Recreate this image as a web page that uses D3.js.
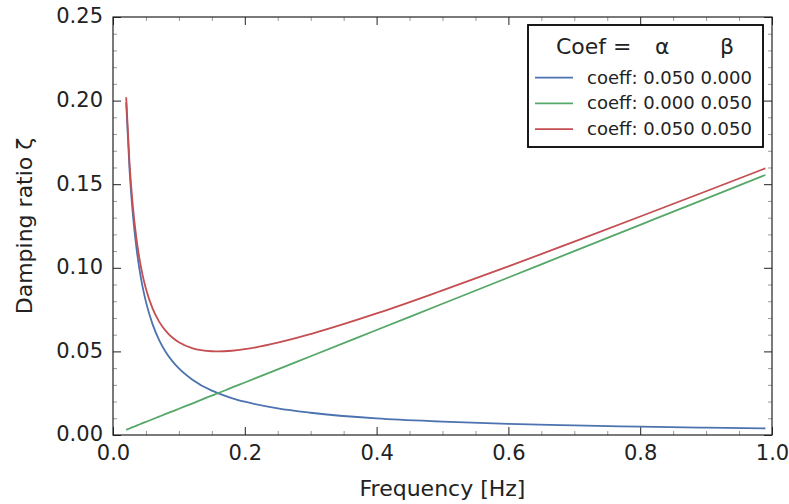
<!DOCTYPE html>
<html>
<head>
<meta charset="utf-8">
<script src="https://cdn.jsdelivr.net/npm/d3@7"></script>
<style>
  body { margin: 0; background: #fff; }
  svg text { font-family: "DejaVu Sans", sans-serif; fill: #222; }
</style>
</head>
<body>
<div id="chart"></div>
<script>
// values
const freq   = [0.02, 0.025, 0.03, 0.035, 0.04, 0.045, 0.05, 0.06, 0.07, 0.08, 0.09, 0.10, 0.12, 0.15, 0.16, 0.18, 0.20, 0.25, 0.30, 0.40, 0.50, 0.60, 0.70, 0.80, 0.90, 0.99];
const zetaA  = [0.1989, 0.1592, 0.1326, 0.1137, 0.0995, 0.0884, 0.0796, 0.0663, 0.0568, 0.0497, 0.0442, 0.0398, 0.0332, 0.0265, 0.0249, 0.0221, 0.0199, 0.0159, 0.0133, 0.0099, 0.0080, 0.0066, 0.0057, 0.0050, 0.0044, 0.0040];
const zetaB  = [0.0031, 0.0039, 0.0047, 0.0055, 0.0063, 0.0071, 0.0079, 0.0094, 0.0110, 0.0126, 0.0141, 0.0157, 0.0188, 0.0236, 0.0251, 0.0283, 0.0314, 0.0393, 0.0471, 0.0628, 0.0785, 0.0942, 0.1100, 0.1257, 0.1414, 0.1555];
const zetaAB = [0.2020, 0.1631, 0.1373, 0.1192, 0.1058, 0.0955, 0.0875, 0.0757, 0.0678, 0.0623, 0.0583, 0.0555, 0.0520, 0.0501, 0.0500, 0.0504, 0.0513, 0.0552, 0.0604, 0.0727, 0.0865, 0.1008, 0.1157, 0.1307, 0.1458, 0.1595];

const seriesNames = ["coeff: 0.050 0.000", "coeff: 0.000 0.050", "coeff: 0.050 0.050"];
const seriesVals = [zetaA, zetaB, zetaAB];
const seriesColors = ["#4C72B0", "#55A868", "#C44E52"];

const xTicks = [0, 0.2, 0.4, 0.6, 0.8, 1.0];
const yTicks = [0, 0.05, 0.10, 0.15, 0.20, 0.25];

const width = 789, height = 504;
const margin = {top: 17, right: 17, bottom: 69, left: 113};

const svg = d3.select("#chart").append("svg")
    .attr("width", width)
    .attr("height", height);

const x = d3.scaleLinear().domain([0, 1]).range([margin.left, width - margin.right]);
const y = d3.scaleLinear().domain([0, 0.25]).range([height - margin.bottom, margin.top]);

// minor + major ticks on all four sides, pointing inward
const xMinor = d3.range(0, 1.0001, 0.05).filter(v => Math.abs(v * 5 - Math.round(v * 5)) > 1e-6);
const yMinor = d3.range(0, 0.2501, 0.01).filter(v => Math.abs(v * 20 - Math.round(v * 20)) > 1e-6);

function tickSet(axisFn, scale, vals, size, cls, pos) {
  const g = svg.append("g").attr("transform", pos);
  g.call(axisFn(scale).tickValues(vals).tickSize(size).tickFormat(""));
  g.select(".domain").remove();
  g.selectAll("line").attr("stroke", cls === "minor" ? "#999" : "#222").attr("stroke-width", 1);
  return g;
}
const bottomY = height - margin.bottom, topY = margin.top;
const leftX = margin.left, rightX = width - margin.right;

tickSet(d3.axisTop, x, xMinor, 4, "minor", `translate(0,${bottomY})`);
tickSet(d3.axisTop, x, xTicks, 8, "major", `translate(0,${bottomY})`);
tickSet(d3.axisBottom, x, xMinor, 4, "minor", `translate(0,${topY})`);
tickSet(d3.axisBottom, x, xTicks, 8, "major", `translate(0,${topY})`);
tickSet(d3.axisRight, y, yMinor, 4, "minor", `translate(${leftX},0)`);
tickSet(d3.axisRight, y, yTicks, 8, "major", `translate(${leftX},0)`);
tickSet(d3.axisLeft, y, yMinor, 4, "minor", `translate(${rightX},0)`);
tickSet(d3.axisLeft, y, yTicks, 8, "major", `translate(${rightX},0)`);

// tick labels
const xAxis = svg.append("g").attr("transform", `translate(0,${bottomY})`)
    .call(d3.axisBottom(x).tickValues(xTicks).tickSize(0).tickPadding(10).tickFormat(d3.format(".1f")));
xAxis.select(".domain").remove();
xAxis.selectAll("text").attr("font-size", 21).attr("font-family", "DejaVu Sans").attr("fill", "#222");

const yAxis = svg.append("g").attr("transform", `translate(${leftX},0)`)
    .call(d3.axisLeft(y).tickValues(yTicks).tickSize(0).tickPadding(10).tickFormat(d3.format(".2f")));
yAxis.select(".domain").remove();
yAxis.selectAll("text").attr("font-size", 21).attr("font-family", "DejaVu Sans").attr("fill", "#222")
     .attr("dy", "0.28em");

// lines
const line = d3.line()
    .x((d, i) => x(freq[i]))
    .y(d => y(d))
    .curve(d3.curveMonotoneX);

seriesVals.forEach((vals, k) => {
  svg.append("path")
     .datum(vals)
     .attr("fill", "none")
     .attr("stroke", seriesColors[k])
     .attr("stroke-width", 1.8)
     .attr("d", line);
});

// frame
svg.append("rect")
   .attr("x", leftX).attr("y", topY)
   .attr("width", rightX - leftX).attr("height", bottomY - topY)
   .attr("fill", "none").attr("stroke", "#222").attr("stroke-width", 1.2);

// axis labels
svg.append("text")
   .attr("x", (leftX + rightX) / 2).attr("y", 496)
   .attr("text-anchor", "middle").attr("font-size", 22)
   .text("Frequency [Hz]");

svg.append("text")
   .attr("transform", `translate(32,${(topY + bottomY) / 2}) rotate(-90)`)
   .attr("text-anchor", "middle").attr("font-size", 22)
   .text("Damping ratio ζ");

// legend
const lg = svg.append("g").attr("transform", "translate(528,25)");
lg.append("rect")
  .attr("width", 235).attr("height", 122)
  .attr("fill", "#fff").attr("stroke", "#000").attr("stroke-width", 1.8);
lg.append("text").attr("x", 28).attr("y", 28.5).attr("font-size", 22).text("Coef =");
lg.append("text").attr("x", 127).attr("y", 28.5).attr("font-size", 22).text("α");
lg.append("text").attr("x", 192).attr("y", 28.5).attr("font-size", 22).text("β");

seriesNames.forEach((name, k) => {
  const yy = 52.7 + k * 25.7;
  lg.append("line")
    .attr("x1", 7).attr("x2", 45).attr("y1", yy).attr("y2", yy)
    .attr("stroke", seriesColors[k]).attr("stroke-width", 1.8);
  lg.append("text")
    .attr("x", 59).attr("y", yy + 5.8).attr("font-size", 18)
    .text(name);
});
</script>
</body>
</html>
